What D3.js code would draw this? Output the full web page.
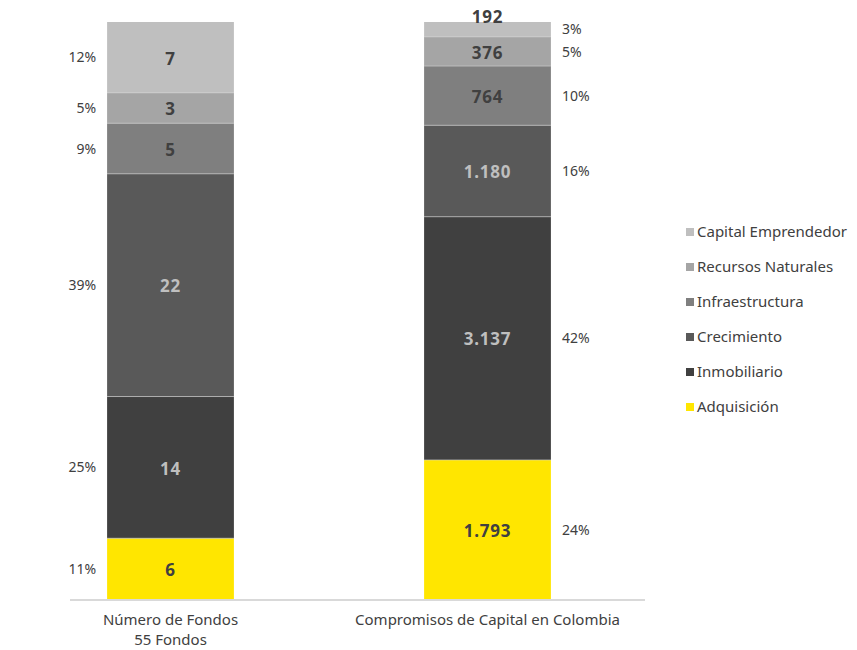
<!DOCTYPE html>
<html>
<head>
<meta charset="utf-8">
<script src="https://cdn.jsdelivr.net/npm/d3@7"></script>
<style>
  html, body { margin: 0; padding: 0; background: #fff; }
  svg { display: block; font-family: "Noto Sans", sans-serif; }
</style>
</head>
<body>
<svg id="chart" width="857" height="650"></svg>
<script>
// Categories (x axis) with their second line
const categories = ["Número de Fondos", "Compromisos de Capital en Colombia"];
const categorySublabels = ["55 Fondos", ""];

// Series, bottom to top of each stack
const series = ["Adquisición", "Inmobiliario", "Crecimiento", "Infraestructura", "Recursos Naturales", "Capital Emprendedor"];
const seriesColors = ["#FFE600", "#404040", "#595959", "#7F7F7F", "#A5A5A5", "#BFBFBF"];
const labelColors  = ["#404040", "#BFBFBF", "#BFBFBF", "#404040", "#404040", "#404040"];

// Values per category, in series order
const fondosValues = [6, 14, 22, 5, 3, 7];
const capitalValues = [1793, 3137, 1180, 764, 376, 192];
// Shares as printed beside each stack
const fondosShares = ["11%", "25%", "39%", "9%", "5%", "12%"];
const capitalShares = ["24%", "42%", "16%", "10%", "5%", "3%"];

const valueSets = [fondosValues, capitalValues];
const shareSets = [fondosShares, capitalShares];

const fmt = d3.formatLocale({ decimal: ",", thousands: ".", grouping: [3], currency: ["", ""] }).format(",d");

const svg = d3.select("#chart");

const x = d3.scaleBand().domain(categories).range([12, 646]).paddingInner(0.6).paddingOuter(0.3);
const y = d3.scaleLinear().domain([0, 1]).range([599, 22]);

// Build normalised stacks
const rows = categories.map((c, i) => {
  const r = { category: c };
  series.forEach((s, j) => r[s] = valueSets[i][j]);
  return r;
});
const stack = d3.stack().keys(series).offset(d3.stackOffsetExpand);
const layers = stack(rows);

const g = svg.append("g");

layers.forEach((layer, j) => {
  g.selectAll(null)
    .data(layer)
    .join("rect")
    .attr("x", d => x(d.data.category))
    .attr("width", x.bandwidth())
    .attr("y", d => y(d[1]))
    .attr("height", d => y(d[0]) - y(d[1]))
    .attr("fill", seriesColors[j]);
});

// Thin light separators between segments
layers.forEach((layer, j) => {
  if (j === 0) return;
  g.selectAll(null)
    .data(layer)
    .join("line")
    .attr("x1", d => x(d.data.category))
    .attr("x2", d => x(d.data.category) + x.bandwidth())
    .attr("y1", d => y(d[0]))
    .attr("y2", d => y(d[0]))
    .attr("stroke", "#d0d0d0")
    .attr("stroke-opacity", 0.6)
    .attr("stroke-width", 1);
});

// Value labels inside segments
layers.forEach((layer, j) => {
  g.selectAll(null)
    .data(layer)
    .join("text")
    .attr("x", d => x(d.data.category) + x.bandwidth() / 2)
    .attr("y", d => {
      const h = y(d[0]) - y(d[1]);
      return h < 20 ? y(d[1]) - 5 : (y(d[0]) + y(d[1])) / 2 + 1;
    })
    .attr("dy", "0.36em")
    .attr("text-anchor", "middle")
    .attr("font-size", 17)
    .attr("font-weight", "bold")
    .attr("letter-spacing", 0.8)
    .attr("fill", labelColors[j])
    .text(d => fmt(d.data[series[j]]));
});

// Share labels beside stacks: left of first, right of second
layers.forEach((layer, j) => {
  g.selectAll(null)
    .data(layer)
    .join("text")
    .attr("x", (d, i) => i === 0 ? x(d.data.category) - 11 : x(d.data.category) + x.bandwidth() + 11)
    .attr("y", d => (y(d[0]) + y(d[1])) / 2)
    .attr("dy", "0.36em")
    .attr("text-anchor", (d, i) => i === 0 ? "end" : "start")
    .attr("font-size", 14)
    .attr("fill", "#404040")
    .text((d, i) => shareSets[i][j]);
});

// Baseline
svg.append("line")
  .attr("x1", 70).attr("x2", 645)
  .attr("y1", 600).attr("y2", 600)
  .attr("stroke", "#d9d9d9").attr("stroke-width", 2);

// Category labels
const xl = svg.append("g");
categories.forEach((c, i) => {
  const t = xl.append("text")
    .attr("x", x(c) + x.bandwidth() / 2)
    .attr("y", 625)
    .attr("text-anchor", "middle")
    .attr("font-size", 15)
    .attr("fill", "#404040");
  t.append("tspan").attr("x", x(c) + x.bandwidth() / 2).text(c);
  if (categorySublabels[i]) {
    t.append("tspan").attr("x", x(c) + x.bandwidth() / 2).attr("dy", 20).text(categorySublabels[i]);
  }
});

// Legend, top entry is the last series
const legend = svg.append("g").attr("transform", "translate(686,232)");
series.slice().reverse().forEach((s, k) => {
  const j = series.length - 1 - k;
  const row = legend.append("g").attr("transform", `translate(0,${k * 35})`);
  row.append("rect").attr("x", 0).attr("y", -4).attr("width", 8).attr("height", 8).attr("fill", seriesColors[j]);
  row.append("text").attr("x", 11).attr("y", 0).attr("dy", "0.36em")
    .attr("font-size", 15).attr("fill", "#404040").text(s);
});
</script>
</body>
</html>
